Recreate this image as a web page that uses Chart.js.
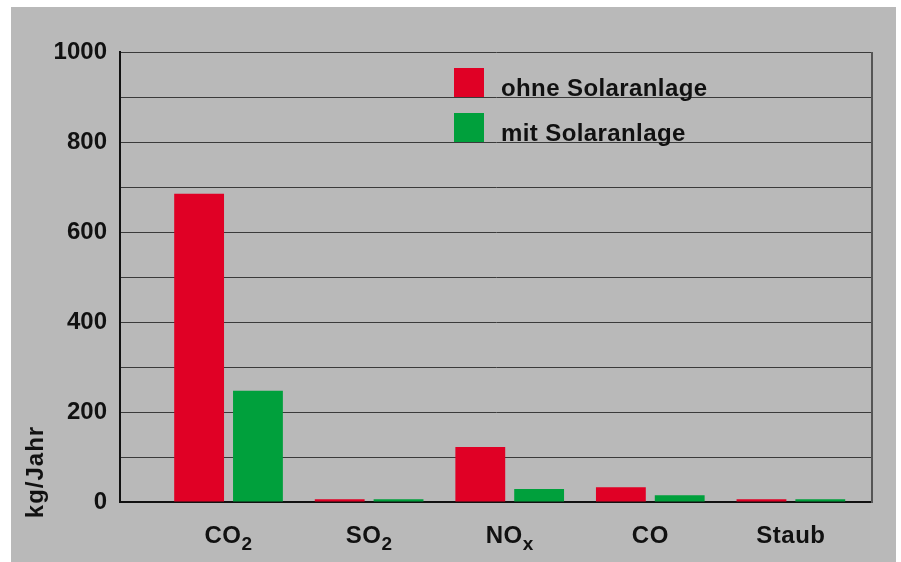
<!DOCTYPE html>
<html>
<head>
<meta charset="utf-8">
<script src="https://cdn.jsdelivr.net/npm/chart.js@4.4.1/dist/chart.umd.min.js"></script>
<style>
  html, body { margin: 0; padding: 0; background: #fff; }
  canvas { display: block; }
</style>
</head>
<body>
<canvas id="c" width="901" height="562"></canvas>
<script>
// Emissions per year, with and without a solar installation
const categories = ['CO₂', 'SO₂', 'NOₓ', 'CO', 'Staub'];
const seriesNames = ['ohne Solaranlage', 'mit Solaranlage'];
const ohneSolar = [685, 6, 122, 33, 6];
const mitSolar = [247, 6, 29, 15, 6];
const yTickLabels = [0, 200, 400, 600, 800, 1000];
const axisTitle = 'kg/Jahr';

const FONT = '"Liberation Sans", Arial, sans-serif';
const RED = '#e00025';
const GREEN = '#00a03c';
const PANEL = '#b9b9b9';
const INK = '#111';

// Subscript characters are rendered as smaller, lowered glyphs
const SUB = { '₂': '2', 'ₓ': 'x' };

function drawRich(ctx, text, cx, baseline, size) {
  const parts = [];
  for (const ch of text) {
    const sub = SUB[ch] !== undefined;
    const last = parts[parts.length - 1];
    if (last && last.sub === sub) last.t += sub ? SUB[ch] : ch;
    else parts.push({ t: sub ? SUB[ch] : ch, sub });
  }
  const subSize = Math.round(size * 0.8);
  let total = 0;
  for (const p of parts) {
    ctx.font = 'bold ' + (p.sub ? subSize : size) + 'px ' + FONT;
    p.w = ctx.measureText(p.t).width;
    total += p.w;
  }
  let x = cx - total / 2;
  ctx.textAlign = 'left';
  ctx.textBaseline = 'alphabetic';
  for (const p of parts) {
    ctx.font = 'bold ' + (p.sub ? subSize : size) + 'px ' + FONT;
    ctx.fillText(p.t, x, baseline + (p.sub ? size * 0.3 : 0));
    x += p.w;
  }
}

const panelPlugin = {
  id: 'panel',
  beforeDraw(chart) {
    const ctx = chart.ctx;
    ctx.save();
    ctx.fillStyle = '#fff';
    ctx.fillRect(0, 0, chart.width, chart.height);
    ctx.fillStyle = PANEL;
    ctx.fillRect(11, 7, 885, chart.height - 7);
    ctx.restore();
  }
};

const decorPlugin = {
  id: 'decor',
  afterDraw(chart) {
    const ctx = chart.ctx;
    const a = chart.chartArea;
    const xs = chart.scales.x;
    ctx.save();

    // right frame edge
    ctx.strokeStyle = '#555';
    ctx.lineWidth = 2;
    ctx.beginPath();
    ctx.moveTo(a.right, a.top);
    ctx.lineTo(a.right, a.bottom + 1);
    ctx.stroke();

    // category labels
    ctx.fillStyle = INK;
    ctx.letterSpacing = '0.5px';
    categories.forEach((c, i) => {
      drawRich(ctx, c, xs.getPixelForValue(i + 1), a.bottom + 41, 24);
    });

    // axis title
    ctx.save();
    ctx.translate(36, a.bottom - 30);
    ctx.rotate(-Math.PI / 2);
    ctx.font = 'bold 24px ' + FONT;
    ctx.letterSpacing = '1px';
    ctx.textAlign = 'center';
    ctx.textBaseline = 'middle';
    ctx.fillText(axisTitle, 0, 0);
    ctx.restore();

    // legend
    const colors = [RED, GREEN];
    ctx.letterSpacing = '0.4px';
    seriesNames.forEach((name, i) => {
      const bx = a.left + 334;
      const by = a.top + 16 + i * 45;
      ctx.fillStyle = colors[i];
      ctx.fillRect(bx, by, 30, 29);
      ctx.fillStyle = INK;
      ctx.font = 'bold 24px ' + FONT;
      ctx.textAlign = 'left';
      ctx.textBaseline = 'alphabetic';
      ctx.fillText(name, bx + 47, by + 28);
    });
    ctx.restore();
  }
};

const toPoints = arr => arr.map((v, i) => ({ x: i + 1, y: v }));

new Chart(document.getElementById('c'), {
  type: 'bar',
  data: {
    datasets: [
      {
        label: seriesNames[0],
        data: toPoints(ohneSolar),
        backgroundColor: RED,
        borderWidth: 0,
        categoryPercentage: 0.837,
        barPercentage: 0.847
      },
      {
        label: seriesNames[1],
        data: toPoints(mitSolar),
        backgroundColor: GREEN,
        borderWidth: 0,
        categoryPercentage: 0.837,
        barPercentage: 0.847
      }
    ]
  },
  options: {
    responsive: false,
    animation: false,
    devicePixelRatio: 1,
    layout: { padding: { left: 0, right: 29, top: 52, bottom: 0 } },
    plugins: {
      legend: { display: false },
      tooltip: { enabled: false }
    },
    scales: {
      x: {
        type: 'linear',
        offset: false,
        min: 0.228,
        max: 5.577,
        afterBuildTicks: s => { s.ticks = categories.map((c, i) => ({ value: i + 1 })); },
        afterFit: s => { s.height = 60; },
        grid: { display: false },
        border: { color: INK, width: 2 },
        ticks: { display: false }
      },
      y: {
        min: 0,
        max: 1000,
        afterFit: s => { s.width = 120; },
        grid: { color: '#3a3a3a', lineWidth: 1, drawTicks: false },
        border: { color: INK, width: 2 },
        ticks: {
          stepSize: 100,
          autoSkip: false,
          padding: 13,
          color: INK,
          font: { family: FONT, size: 24, weight: 'bold' },
          callback: v => (yTickLabels.includes(v) ? String(v) : '')
        }
      }
    }
  },
  plugins: [panelPlugin, decorPlugin]
});
</script>
</body>
</html>
